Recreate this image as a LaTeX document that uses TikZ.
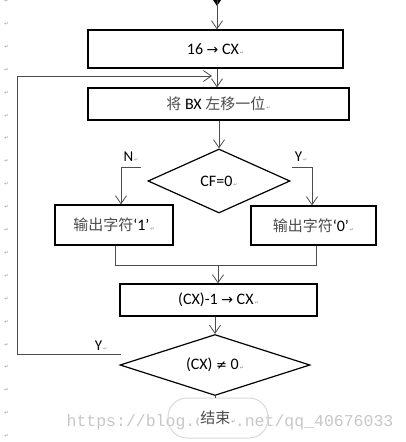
\documentclass[tikz,border=0pt]{standalone}
\usepackage{fontspec}
\setmainfont{Carlito}
\newfontfamily\cjk{Noto Sans CJK SC}
\newfontfamily\dvs{DejaVu Sans}
\newfontfamily\wmfont{Liberation Mono}
\usetikzlibrary{arrows.meta,shapes.geometric}
\newcommand{\zh}[1]{{\cjk\fontsize{15}{17}\selectfont\color{black!70}#1}}
\newcommand{\parmark}{{\dvs\fontsize{5}{5}\selectfont\color{black!45}\kern1pt↵}}
\newcommand{\ar}{{\dvs\fontsize{14}{16}\selectfont →}}
\tikzset{
  box/.style={draw=black,line width=1.2pt,rectangle,inner sep=0pt,font=\fontsize{16}{18}\selectfont},
  dia/.style={draw=black,line width=1.2pt,diamond,aspect=2.2,inner sep=0pt,font=\fontsize{16}{18}\selectfont},
  conn/.style={draw=black!70,line width=0.8pt},
  arr/.style={conn,-{Straight Barb[length=8pt,width=11pt,line width=0.8pt]}},
  lbl/.style={inner sep=0pt,font=\fontsize{15}{17}\selectfont},
  pmark/.style={inner sep=0pt}
}
\begin{document}
\begin{tikzpicture}[x=1pt,y=-1pt]
\useasboundingbox[fill=white] (0,0) rectangle (406,442);
% paragraph marks in margin
\foreach \i in {0,...,19}{
  \node[pmark] (pm\i) at (6,{\i*22.9+1}) {\parmark};
}
% watermark
\node[inner sep=0pt,text=black!22,font=\wmfont\fontsize{16.5}{18}\selectfont] (wm) at (230,422) {https://blog.csdn.net/qq\_40676033};
% nodes
\node[box,minimum width=255pt,minimum height=38pt] (b1) at (215.5,49) {16 \ar{} CX\parmark};
\node[box,minimum width=261pt,minimum height=32pt] (b2) at (218.5,104) {\zh{将} BX \zh{左移一位}\parmark};
\node[dia,minimum width=142pt,minimum height=64pt] (d1) at (219,181) {CF=0\parmark};
\node[box,minimum width=118pt,minimum height=40pt] (b3) at (114,225) {\zh{输出字符}‘1’\parmark};
\node[box,minimum width=125pt,minimum height=39pt] (b4) at (313.5,225.5) {\zh{输出字符}‘0’\parmark};
\node[box,minimum width=197pt,minimum height=32pt] (b5) at (218.5,300) {(CX)-1 \ar{} CX\parmark};
\node[dia,minimum width=190pt,minimum height=61pt] (d2) at (215,365) {(CX) {\dvs\fontsize{13}{15}\selectfont ≠} 0\parmark};
\node[draw=black!15,line width=1pt,rounded corners=19pt,minimum width=100pt,minimum height=40pt,inner sep=0pt] (end) at (218,418) {};
\node[fill=white,inner sep=1pt] (endt) at (end.center) {\zh{结束}\parmark};
% labels
\node[lbl] (lN) at (131,157) {N\parmark};
\node[lbl] (lY1) at (301,157) {Y\parmark};
\node[lbl] (lY2) at (101,346) {Y\parmark};
% coordinates
\coordinate (t0) at (217,0);
\coordinate (nA) at (141,167);
\coordinate (nB) at (121,167);
\coordinate (yA) at (292,167);
\coordinate (yB) at (312,167);
\coordinate (mL) at (115,265);
\coordinate (mR) at (316,265);
\coordinate (mC) at (218,265);
\coordinate (lA) at (121,354);
\coordinate (lB) at (17,354);
\coordinate (lC) at (17,76);
\coordinate (lD) at (212,76);
% top arrow
\fill[black] (213,0) -- (221,0) -- (217,6) -- cycle;
\draw[arr] (t0) -- (t0 |- b1.north);
\draw[arr,line width=1pt] (b1.south -| t0) -- (t0 |- b2.north);
\draw[arr] (b2.south -| d1.north) -- (d1.north);
\draw[arr] (lA) -- (lB) -- (lC) -- (lD);
\draw[arr] (nA) -- (nB) -- (nB |- b3.north);
\draw[arr] (yA) -- (yB) -- (yB |- b4.north);
\draw[conn] (b3.south -| mL) -- (mL) -- (mR) -- (b4.south -| mR);
\draw[arr] (mC) -- (mC |- b5.north);
\draw[arr] (b5.south -| d2.north) -- (d2.north);
\draw[conn] (d2.south) -- (d2.south |- end.north);
\end{tikzpicture}
\end{document}
